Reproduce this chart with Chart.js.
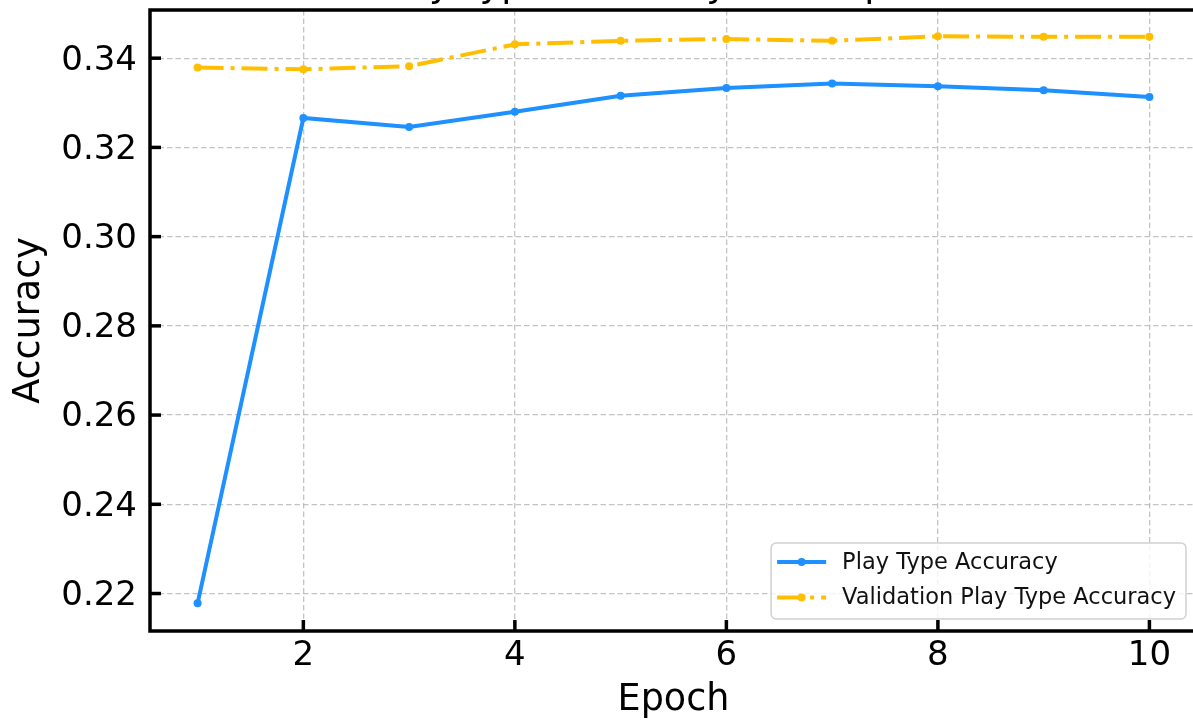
<!DOCTYPE html>
<html>
<head>
<meta charset="utf-8">
<title>Play Type Accuracy Over Epochs</title>
<script src="https://cdn.jsdelivr.net/npm/chart.js@4.4.1/dist/chart.umd.min.js"></script>
<style>
  html, body { margin: 0; padding: 0; background: #fff; overflow: hidden; }
  canvas { display: block; }
</style>
</head>
<body>
<canvas id="chart" width="1215" height="724"></canvas>
<script>
// ---- data ----
const epochs = [1, 2, 3, 4, 5, 6, 7, 8, 9, 10];
const trainAcc = [0.2178, 0.3266, 0.3246, 0.3280, 0.3316, 0.3333, 0.3343, 0.3337, 0.3328, 0.3313];
const valAcc = [0.3379, 0.3375, 0.3382, 0.3431, 0.3439, 0.3443, 0.3439, 0.3449, 0.3448, 0.3448];
const xTicks = [2, 4, 6, 8, 10];
const yTicks = [0.22, 0.24, 0.26, 0.28, 0.30, 0.32, 0.34];
const seriesNames = ['Play Type Accuracy', 'Validation Play Type Accuracy'];
const chartTitle = 'Play Type Accuracy Over Epochs';

const FONT = 'DejaVu Sans';
const BLUE = '#1E90FF';
const AMBER = '#FFBF00';

const toPoints = (ys) => epochs.map((e, i) => ({ x: e, y: ys[i] }));

// Box frame, inward tick marks and the (partly clipped) title
const framePlugin = {
  id: 'frame',
  afterDatasetsDraw(chart) {
    const { ctx, chartArea: a, scales } = chart;
    ctx.save();
    ctx.strokeStyle = '#000';
    ctx.lineWidth = 3.5;
    // inward ticks
    scales.x.ticks.forEach(t => {
      const px = scales.x.getPixelForValue(t.value);
      ctx.beginPath();
      ctx.moveTo(px, a.bottom);
      ctx.lineTo(px, a.bottom - 11);
      ctx.stroke();
    });
    scales.y.ticks.forEach(t => {
      const py = scales.y.getPixelForValue(t.value);
      ctx.beginPath();
      ctx.moveTo(a.left, py);
      ctx.lineTo(a.left + 11, py);
      ctx.stroke();
    });
    ctx.strokeRect(a.left, a.top, a.right - a.left, a.bottom - a.top);
    // title sits above the frame
    ctx.fillStyle = '#000';
    ctx.font = '37px "' + FONT + '"';
    ctx.textAlign = 'center';
    ctx.textBaseline = 'alphabetic';
    ctx.fillText(chartTitle, (a.left + a.right) / 2, a.top - 14);
    ctx.restore();
  }
};

// Legend in the lower right corner, line + marker samples
const legendPlugin = {
  id: 'cornerLegend',
  afterDraw(chart) {
    const { ctx, chartArea: a } = chart;
    const sets = chart.data.datasets;
    ctx.save();
    ctx.font = '22.5px "' + FONT + '"';
    const textW = Math.max(...sets.map(d => ctx.measureText(d.label).width));
    const w = 6 + 49 + 16 + textW + 10;
    const h = 76;
    const right = a.right - 11;
    const bottom = a.bottom - 12;
    const left = right - w;
    const top = bottom - h;
    ctx.beginPath();
    ctx.roundRect(left, top, w, h, 5);
    ctx.fillStyle = 'rgba(255,255,255,0.8)';
    ctx.fill();
    ctx.strokeStyle = 'rgba(204,204,204,0.9)';
    ctx.lineWidth = 1.5;
    ctx.stroke();
    sets.forEach((d, i) => {
      const y = top + 19 + i * 35.5;
      const x0 = left + 6;
      ctx.save();
      ctx.strokeStyle = d.borderColor;
      ctx.lineWidth = d.borderWidth;
      ctx.lineCap = 'butt';
      ctx.setLineDash(d.borderDash || []);
      ctx.beginPath();
      ctx.moveTo(x0, y);
      ctx.lineTo(x0 + 49, y);
      ctx.stroke();
      ctx.restore();
      ctx.beginPath();
      ctx.arc(x0 + 24.5, y, d.pointRadius, 0, Math.PI * 2);
      ctx.fillStyle = d.borderColor;
      ctx.fill();
      ctx.fillStyle = '#111';
      ctx.textAlign = 'left';
      ctx.textBaseline = 'middle';
      ctx.fillText(d.label, x0 + 49 + 16, y + 1);
    });
    ctx.restore();
  }
};

const gridStyle = { color: 'rgba(176,176,176,0.75)', lineWidth: 1.3, drawTicks: false };

// tick labels never reach the plot edges, so no extra edge padding is needed
const noEdgePadding = s => {
  s.paddingTop = 0;
  s.paddingBottom = 0;
  s.paddingLeft = 0;
  s.paddingRight = 0;
};

new Chart(document.getElementById('chart'), {
  type: 'line',
  data: {
    datasets: [
      {
        label: seriesNames[0],
        data: toPoints(trainAcc),
        borderColor: BLUE,
        backgroundColor: BLUE,
        borderWidth: 4,
        pointRadius: 4,
        pointBorderWidth: 0,
        pointBackgroundColor: BLUE,
        tension: 0
      },
      {
        label: seriesNames[1],
        data: toPoints(valAcc),
        borderColor: AMBER,
        backgroundColor: AMBER,
        borderWidth: 4,
        borderDash: [26, 7, 4, 7],
        borderCapStyle: 'butt',
        pointRadius: 4,
        pointBorderWidth: 0,
        pointBackgroundColor: AMBER,
        tension: 0
      }
    ]
  },
  options: {
    responsive: false,
    animation: false,
    devicePixelRatio: 1,
    layout: { padding: { left: 0, top: 10, right: 18, bottom: 0 } },
    plugins: {
      legend: { display: false },
      title: { display: false },
      tooltip: { enabled: false }
    },
    scales: {
      x: {
        type: 'linear',
        min: 0.55,
        max: 10.45,
        grid: gridStyle,
        border: { display: false, dash: [5.5, 3] },
        afterBuildTicks: s => { s.ticks = xTicks.map(v => ({ value: v })); },
        afterFit: s => { s.height = 93; noEdgePadding(s); },
        ticks: {
          color: '#000',
          padding: 5,
          font: { family: FONT, size: 34 },
          callback: v => String(v)
        },
        title: {
          display: true,
          text: 'Epoch',
          color: '#000',
          font: { family: FONT, size: 36.5 },
          padding: { top: 0, bottom: 2 }
        }
      },
      y: {
        type: 'linear',
        min: 0.2116,
        max: 0.3508,
        grid: gridStyle,
        border: { display: false, dash: [5.5, 3] },
        afterBuildTicks: s => { s.ticks = yTicks.map(v => ({ value: v })); },
        afterFit: s => { s.width = 150; noEdgePadding(s); },
        ticks: {
          color: '#000',
          padding: 13,
          labelOffset: 2.5,
          font: { family: FONT, size: 34 },
          callback: v => Number(v).toFixed(2)
        },
        title: {
          display: true,
          text: 'Accuracy',
          color: '#000',
          font: { family: FONT, size: 36.5 },
          padding: { top: 7.5, bottom: 0 }
        }
      }
    }
  },
  plugins: [framePlugin, legendPlugin]
});
</script>
</body>
</html>
